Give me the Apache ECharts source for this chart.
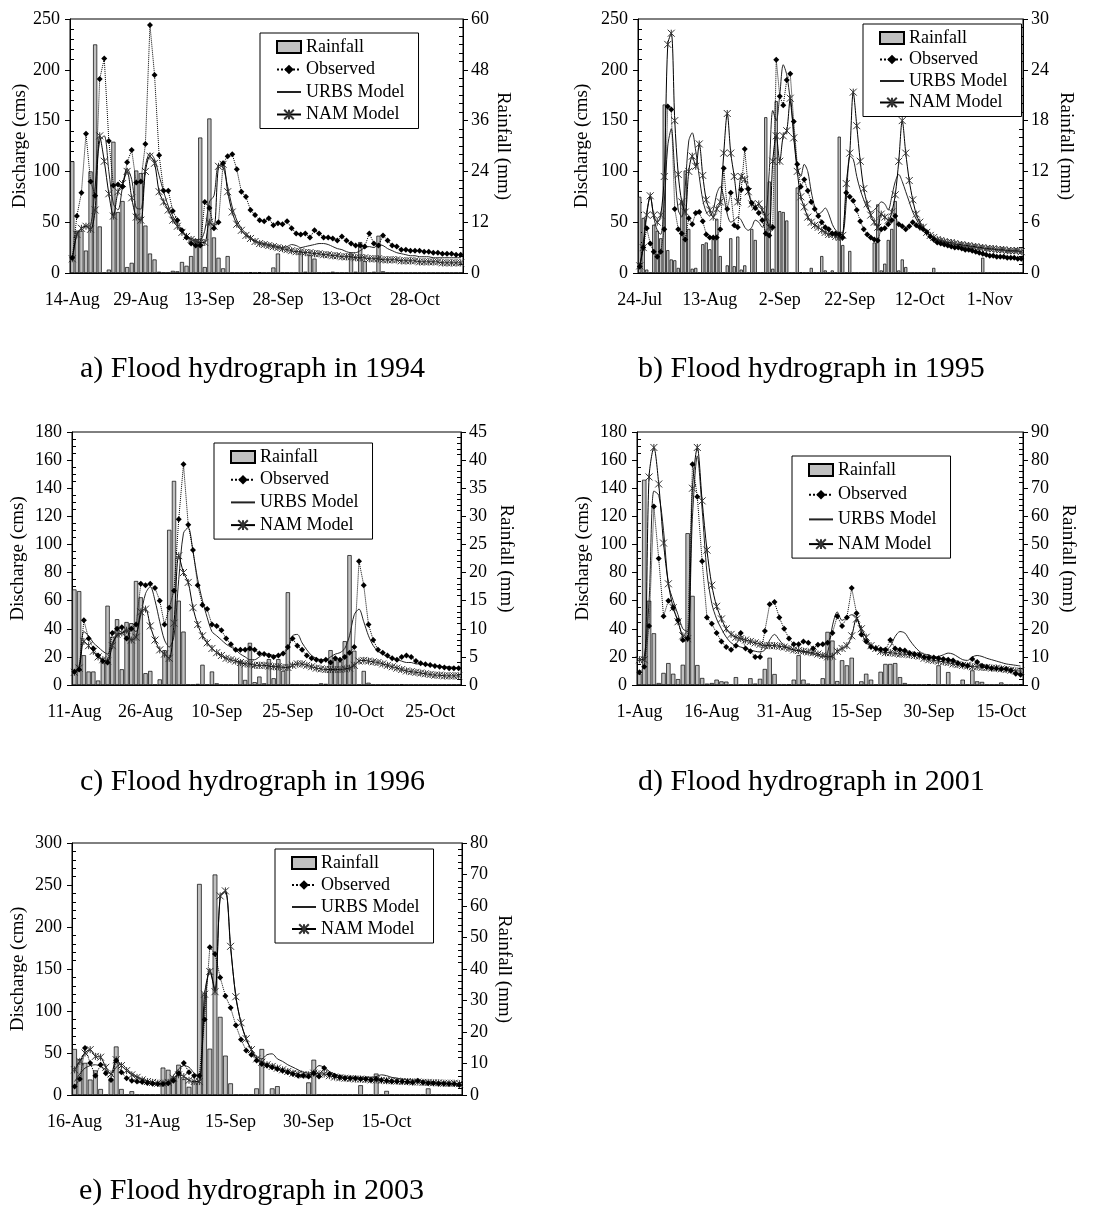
<!DOCTYPE html>
<html>
<head>
    <meta charset="utf-8" />
    <title>Flood hydrographs</title>
    <script src="https://cdn.jsdelivr.net/npm/echarts@6/dist/echarts.min.js"></script>
    <style>body { margin: 0; background: #fff; }</style>
</head>
<body>
    <div id="main" style="width: 1109px;height:1211px;"></div>
    <script type="text/javascript">
        // daily values (index 0 = first day of each panel)
        var rain1994 = [26.4, 10, 10, 5.3, 24, 54, 11, 0, 0.8, 31,
            14.4, 17, 1.4, 2.4, 24.2, 23.6, 11.2, 4.6, 3.2, 0.3,
            0, 0, 0.5, 0.4, 2.6, 1.7, 4, 7.9, 32, 1.4,
            36.5, 8.4, 3.6, 1.1, 4, 0, 0, 0, 0, 0.2,
            0, 0.2, 0, 0, 1.3, 4.6, 0, 0, 0, 0,
            5, 0.3, 4.2, 3.4, 0, 0, 0, 0.3, 0, 0,
            0, 4.6, 0.3, 7.3, 2.8, 0, 0.3, 8.8, 0.4, 0,
            0, 0, 0, 0, 0, 0, 0, 0, 0, 0,
            0, 0, 0, 0, 0, 0];
        var obs1994 = [15, 56, 79, 137, 90, 76, 191, 211, 130, 86,
            87, 85, 109, 121, 89, 90, 127, 244, 195, 116,
            81, 81, 61, 52, 42, 35, 29, 27, 27, 70,
            64, 44, 50, 108, 115, 117, 102, 80, 75, 62,
            57, 52, 51, 54, 47, 49, 48, 51, 44, 39,
            38, 39, 35, 42, 39, 35, 35, 34, 32, 36,
            32, 29, 27, 27, 26, 39, 29, 27, 37, 32,
            27, 26, 23, 23, 22, 22, 22, 21, 21, 20,
            20, 19, 19, 19, 18, 18];
        var urbs1994 = [12, 38, 44, 46, 47, 85, 130, 135, 100, 68,
            62, 85, 103, 92, 64, 63, 105, 118, 112, 96,
            80, 66, 56, 48, 42, 37, 34, 33, 33, 42,
            70, 76, 106, 104, 85, 65, 52, 44, 39, 35,
            32, 30, 29, 28, 27, 26, 25, 26, 28, 27,
            25, 26, 27, 28, 29, 29, 28, 26, 24, 23,
            21, 20, 20, 22, 25, 26, 25, 28, 27, 24,
            22, 20, 19, 18, 17, 17, 16, 16, 16, 15,
            15, 15, 15, 15, 15, 15];
        var nam1994 = [14, 38, 44, 46, 43, 62, 135, 110, 78, 56,
            80, 88, 100, 74, 55, 52, 100, 115, 108, 80,
            70, 62, 52, 46, 40, 36, 33, 31, 30, 30,
            50, 46, 105, 107, 80, 60, 48, 42, 37, 34,
            31, 29, 28, 27, 26, 25, 24, 23, 22, 21,
            21, 20, 20, 19, 19, 18, 18, 17, 17, 16,
            16, 16, 15, 15, 15, 14, 14, 14, 13, 13,
            13, 13, 12, 12, 12, 12, 11, 11, 11, 11,
            11, 10, 10, 10, 10, 10];

        var rain1995 = [9.0, 6.5, 0.4, 0, 5.7, 5.0, 4.1, 19.9, 2.7, 1.6,
            1.5, 0.6, 8.5, 12.1, 5.2, 0.5, 0.6, 0, 3.4, 3.6,
            2.8, 4.2, 6.4, 2.0, 0, 0.9, 4.1, 0.8, 4.3, 0.4,
            0.9, 0, 5.2, 3.9, 0, 0, 18.4, 10.8, 0.5, 20.3,
            7.3, 7.2, 6.2, 0, 0, 10.1, 0.1, 0, 0, 0.6,
            0, 0, 2.0, 0.3, 0, 0.3, 0, 16.1, 3.3, 0,
            2.6, 0, 0, 0, 0, 0, 0, 3.6, 8.1, 0.3,
            1.1, 3.9, 5.2, 8.5, 0.3, 1.6, 0.7, 0, 0, 0,
            0, 0, 0, 0, 0.6, 0, 0, 0, 0, 0,
            0, 0, 0, 0, 0, 0, 0, 0, 1.8, 0,
            0, 0, 0, 0, 0, 0, 0, 0, 0, 0];
        var obs1995 = [6.5, 25, 44, 29, 21, 16, 21, 43, 164, 161,
            63, 43, 39, 33, 54, 48, 59, 60, 51, 38,
            35, 35, 35, 43, 103, 63, 79, 47, 45, 82,
            122, 83, 69, 64, 59, 52, 39, 37, 45, 210,
            174, 165, 190, 196, 149, 107, 85, 92, 81, 70,
            63, 56, 50, 45, 43, 39, 39, 38, 35, 79,
            75, 71, 62, 51, 43, 38, 35, 33, 32, 43,
            44, 48, 52, 56, 48, 46, 43, 46, 50, 47,
            45, 43, 40, 36, 33, 30, 29, 28, 27, 26,
            25, 25, 24, 23, 23, 22, 21, 20, 19, 18,
            17, 17, 16, 16, 16, 15, 15, 15, 14, 14];
        var urbs1995 = [5, 30, 60, 75, 55, 42, 38, 70, 125, 142,
            100, 62, 55, 85, 130, 138, 120, 95, 72, 60,
            56, 62, 78, 85, 75, 58, 50, 52, 55, 52,
            45, 42, 45, 52, 50, 45, 55, 100, 160, 150,
            175, 205, 195, 170, 140, 105, 95, 107, 100, 80,
            65, 58, 60, 64, 58, 48, 42, 40, 40, 70,
            115, 112, 95, 82, 72, 64, 60, 62, 66, 70,
            68, 62, 75, 90, 97, 90, 80, 70, 60, 53,
            47, 43, 40, 37, 35, 33, 32, 31, 30, 29,
            28, 28, 27, 27, 26, 26, 25, 25, 24, 24,
            23, 23, 23, 22, 22, 22, 21, 21, 21, 21];
        var nam1995 = [7, 25, 57, 76, 57, 50, 57, 95, 225, 236,
            150, 97, 70, 60, 100, 115, 105, 127, 96, 72,
            62, 55, 63, 70, 118, 157, 118, 95, 70, 95,
            92, 80, 68, 65, 68, 62, 55, 45, 110, 135,
            110, 135, 140, 172, 133, 100, 75, 65, 55, 50,
            47, 45, 42, 40, 38, 38, 36, 35, 37, 88,
            118, 178, 145, 110, 83, 68, 57, 50, 45, 58,
            55, 52, 60, 77, 110, 150, 118, 91, 72, 58,
            50, 45, 40, 37, 35, 33, 32, 31, 30, 30,
            29, 28, 28, 27, 27, 26, 26, 25, 25, 24,
            24, 24, 23, 23, 23, 22, 22, 22, 22, 21];

        var rain1996 = [17, 16.7, 5.3, 2.4, 2.4, 0.8, 4.0, 14.1, 8.6, 11.7,
            2.8, 11.2, 11.0, 18.5, 15.6, 2.1, 2.5, 0, 1.0, 6.2,
            27.6, 36.3, 15.0, 9.5, 0, 0, 0.2, 3.6, 0, 2.4,
            0.3, 0, 0, 0, 0, 4.3, 0.9, 7.5, 0.5, 1.5,
            0.3, 4.6, 1.2, 4.6, 2.5, 16.5, 0, 0, 0, 0,
            0, 0, 0.3, 0.2, 6.2, 4.4, 4.2, 7.8, 23.1, 6.1,
            0, 2.5, 0.4, 0, 0, 0, 0, 0, 0, 0.1,
            0, 0, 0, 0, 0, 0, 0, 0, 0, 0,
            0, 0];
        var obs1996 = [9.5, 11, 46, 33, 26, 21, 17, 16, 37, 40,
            41, 33, 40, 43, 72, 71, 72, 69, 60, 43,
            55, 67, 118, 157, 114, 96, 71, 57, 54, 43,
            42, 39, 33, 29, 25, 25, 25, 26, 25, 22.5,
            22, 21, 20, 21, 22.5, 27, 33, 28, 25, 21,
            19, 18, 17, 18, 16, 19, 18, 20, 23, 27,
            88, 71, 43, 32, 25, 23, 21, 19, 18, 20,
            21, 20, 17, 15.5, 14.7, 14.2, 13.5, 13, 12.5, 12,
            12, 12];
        var urbs1996 = [10, 13, 38, 35, 30, 27, 24, 22, 30, 35,
            37, 38, 40, 38, 50, 65, 70, 60, 45, 32,
            27, 35, 75, 108, 112, 95, 75, 60, 48, 38,
            35, 32, 29, 27, 25, 22, 20, 18, 18, 20,
            22, 22, 21, 21, 22, 26, 35, 36, 30, 25,
            21, 19, 18, 18, 20, 22, 23, 26, 35, 50,
            54, 45, 35, 28, 24, 22, 20, 19, 18, 17,
            16, 16, 15, 15, 14.5, 14, 14, 13.5, 13, 13,
            12.5, 12];
        var nam1996 = [9, 12, 31, 28, 24, 20, 18, 17, 28, 36,
            37, 39, 32, 34, 52, 54, 42, 32, 25, 22,
            19, 44, 92, 80, 73, 55, 43, 35, 30, 26,
            23, 21, 19, 18, 17, 16, 15, 15, 14, 14,
            14, 13.5, 13, 13, 12.5, 12.5, 14, 15, 15, 14,
            13, 12, 11.5, 11, 11, 11, 11, 11.5, 12, 14,
            17, 17.5, 17, 16.5, 16, 15, 14, 13, 12, 11,
            10, 9.5, 9, 8.5, 8, 7.5, 7, 7, 6.5, 6.5,
            6.5, 6.5];

        var rain2001 = [4, 73, 30, 18.4, 0.7, 4.3, 7.8, 4, 2.1, 7.2,
            54, 31.7, 7.1, 2.5, 0.5, 0.7, 1.9, 1.3, 1.2, 0,
            2.8, 0, 0, 2.4, 0.5, 2.2, 5.7, 9.7, 3.9, 0,
            0, 0.1, 1.9, 10.6, 1.9, 0.5, 0, 0, 2.4, 18.9,
            15.8, 1.4, 8.8, 7, 9.7, 0, 1.3, 4, 1.9, 0,
            4.7, 7.5, 7.5, 7.8, 2.8, 0.7, 0, 0, 0, 0,
            0.3, 0, 7, 0, 4.6, 0, 0, 1.9, 0, 5.2,
            1.3, 1.1, 0, 0, 0, 0.9, 0, 0, 0, 0.2];
        var obs2001 = [9, 13, 42, 127, 90, 49, 60, 55, 46, 32,
            33, 157, 134, 88, 48, 43.5, 37, 31, 27, 25,
            28, 37, 26, 24, 20, 20, 38.5, 57.5, 59, 48,
            40, 33, 29, 29, 31, 30, 26, 28.6, 29, 30,
            37, 49, 42, 48, 69, 51, 36, 31, 27, 26,
            25.5, 25, 32, 26, 25, 24.6, 22.7, 22, 21.5, 20,
            19.6, 19.5, 19, 18.5, 18, 17.5, 15.6, 14.4, 13.7, 18.5,
            16.3, 13.7, 12.8, 12, 11.8, 11.4, 11.4, 10.4, 8, 7.3];
        var urbs2001 = [17, 20, 60, 138, 135, 110, 72, 60, 50, 40,
            38, 120, 163, 125, 80, 58, 47, 40, 34, 30,
            28, 27, 26, 25, 24, 23.5, 25, 32, 36, 32,
            28, 26, 25, 24.5, 23.5, 23, 22, 21, 20, 23,
            42, 52, 46, 48, 50, 48, 38, 30, 27.5, 25.5,
            25, 25, 27.5, 34.5, 38, 37, 32, 27.5, 24, 22,
            21.5, 20, 20.3, 21.5, 22.7, 22, 20, 18, 17.5, 20,
            21, 20.3, 19, 18, 17, 16, 15, 14.5, 14, 13.5];
        var nam2001 = [18, 18, 148, 169, 143, 101, 72, 55, 45, 35,
            33, 140, 169, 131, 96, 71, 56, 47, 40, 36,
            34, 33, 32, 31, 30, 29, 28, 28, 28, 27.5,
            27, 26, 25, 24.5, 24, 23.5, 23, 22, 21, 20,
            20.5, 24, 26, 28, 35, 47, 40, 34, 28, 26,
            24, 23, 23, 22.5, 22, 22, 21.5, 21, 20.5, 19,
            18, 17.5, 17, 16.5, 16, 15, 14.5, 14, 13.5, 13,
            13, 12.5, 12.5, 12, 12, 11.5, 11, 10.5, 10, 10];

        var rain2003 = [14.6, 11.4, 10.2, 4.9, 7.8, 1.9, 0, 5.3, 15.4, 1.9,
            0, 1.2, 0, 0, 0, 0, 0, 8.7, 8.0, 5.5,
            9.6, 5.0, 2.6, 4.5, 67, 32.3, 14.7, 70, 24.8, 12.5,
            3.7, 0, 0, 0, 0, 2.1, 14.6, 0, 2.1, 2.8,
            0, 0, 0, 0, 0, 4, 11.2, 0, 0, 0,
            0, 0, 0, 0, 0, 3.1, 0, 0, 6.8, 0,
            1.3, 0, 0, 0, 0, 0, 0, 0, 2.1, 0,
            0, 0, 0, 0, 0];
        var obs2003 = [10, 19, 56, 38, 23, 36, 26, 18, 41, 27,
            20, 17, 16, 15.5, 14.3, 13.5, 13, 13, 14, 17,
            26, 38, 27, 23, 23, 90, 176, 168, 140, 118,
            104, 83, 66, 53, 48, 41, 37, 35, 33, 31,
            29, 27, 25, 23, 23, 22, 26, 22, 32, 25,
            23, 21, 20, 20, 20, 19, 19, 18, 19, 17.5,
            17, 16, 16, 16, 15.5, 15, 17, 15, 14, 14,
            13.5, 13.5, 13, 13, 12];
        var urbs2003 = [16, 25, 32, 35, 36, 34, 30, 25, 33, 37,
            31, 26, 22, 19, 17, 15, 14, 14, 16, 23,
            31, 35, 33, 26, 22, 105, 150, 125, 235, 242,
            175, 118, 86, 66, 54, 46, 43, 48, 49, 43,
            40, 36, 33, 30, 27, 26, 29, 35, 33, 28,
            25, 23, 22, 21, 21, 21, 21, 21, 22, 24,
            23, 21, 20, 19, 18, 18, 17, 17, 16, 16,
            15, 15, 14, 14, 13];
        var nam2003 = [30, 40, 50, 54, 46, 45, 33, 25, 42, 35,
            29, 24, 21, 18, 16, 15, 14, 14, 15, 20,
            24, 22, 17.5, 16, 16, 120, 147, 123, 237, 243,
            177, 117, 86, 67, 54, 43, 39, 36, 34, 32,
            30, 28, 26, 25, 24, 24, 26, 25, 25, 23,
            21.4, 20.5, 20, 19.5, 19, 19, 18.5, 18, 18, 17.5,
            17, 17, 16.5, 16, 16, 15.5, 15.5, 15, 15, 14.5,
            14.5, 14, 14, 14, 13.5];

        var MONTHS = ['Jan', 'Feb', 'Mar', 'Apr', 'May', 'Jun', 'Jul', 'Aug', 'Sep', 'Oct', 'Nov', 'Dec'];
        function dayLabels(year, month, day, n) {
            var out = [];
            for (var i = 0; i < n; i++) {
                var d = new Date(Date.UTC(year, month, day + i));
                out.push(d.getUTCDate() + '-' + MONTHS[d.getUTCMonth()]);
            }
            return out;
        }

        var FONT = 'Liberation Serif';
        var starPath = 'path://M0,0L10,10M10,0L0,10M5,0L5,10';

        var panels = [
            { title: 'a) Flood hydrograph in 1994', start: [1994, 7, 14], rain: rain1994, obs: obs1994, urbs: urbs1994, nam: nam1994,
              grid: { left: 70, top: 19, width: 393, height: 254 }, q: [250, 50, 5], r: [60, 12, 6], every: 15,
              legend: [260, 33, 4.5], titleAt: [80, 369], gapL: 39, gapR: 30 },
            { title: 'b) Flood hydrograph in 1995', start: [1995, 6, 24], rain: rain1995, obs: obs1995, urbs: urbs1995, nam: nam1995,
              grid: { left: 638, top: 19, width: 385, height: 254 }, q: [250, 50, 5], r: [30, 6, 6], every: 20,
              legend: [863, 24, 3.5], titleAt: [638, 369], gapL: 46, gapR: 33 },
            { title: 'c) Flood hydrograph in 1996', start: [1996, 7, 11], rain: rain1996, obs: obs1996, urbs: urbs1996, nam: nam1996,
              grid: { left: 72, top: 432, width: 389, height: 253 }, q: [180, 20, 4], r: [45, 5, 5], every: 15,
              legend: [214, 443, 4.7], titleAt: [80, 782], gapL: 44, gapR: 35 },
            { title: 'd) Flood hydrograph in 2001', start: [2001, 7, 1], rain: rain2001, obs: obs2001, urbs: urbs2001, nam: nam2001,
              grid: { left: 637, top: 432, width: 386, height: 253 }, q: [180, 20, 4], r: [90, 10, 5], every: 15,
              legend: [792, 456, 6.7], titleAt: [638, 782], gapL: 44, gapR: 35 },
            { title: 'e) Flood hydrograph in 2003', start: [2003, 7, 16], rain: rain2003, obs: obs2003, urbs: urbs2003, nam: nam2003,
              grid: { left: 72, top: 843, width: 390, height: 252 }, q: [300, 50, 5], r: [80, 10, 5], every: 15,
              legend: [275, 849, 4], titleAt: [79, 1191], gapL: 44, gapR: 32 }
        ];

        var black = { color: '#000' };
        var labelFont = { color: '#000', fontFamily: FONT, fontSize: 18 };

        var option = { animation: false, grid: [], xAxis: [], yAxis: [], series: [], legend: [], graphic: [] };

        panels.forEach(function (p, k) {
            var n = p.rain.length;
            option.grid.push({ left: p.grid.left, top: p.grid.top, width: p.grid.width, height: p.grid.height,
                show: true, borderColor: '#000', borderWidth: 1 });
            option.xAxis.push({
                type: 'category', gridIndex: k, boundaryGap: true,
                data: dayLabels(p.start[0], p.start[1], p.start[2], n),
                axisLine: { lineStyle: black },
                axisTick: { interval: p.every - 1, length: 5, lineStyle: black },
                axisLabel: { interval: p.every - 1, margin: 18, color: '#000', fontFamily: FONT, fontSize: 18 }
            });
            var yi = option.yAxis.length;
            // discharge axis (left), major ticks outside
            option.yAxis.push({
                type: 'value', gridIndex: k, position: 'left', min: 0, max: p.q[0], interval: p.q[1],
                name: 'Discharge (cms)', nameLocation: 'middle', nameGap: p.gapL,
                nameTextStyle: { color: '#000', fontFamily: FONT, fontSize: 19 },
                axisLine: { show: true, lineStyle: black },
                axisTick: { show: true, length: 5, lineStyle: black },
                axisLabel: { margin: 10, color: '#000', fontFamily: FONT, fontSize: 18 },
                splitLine: { show: false }
            });
            // same scale, only inner minor ticks
            option.yAxis.push({
                type: 'value', gridIndex: k, position: 'left', min: 0, max: p.q[0], interval: p.q[1],
                axisLine: { show: false }, axisLabel: { show: false }, splitLine: { show: false },
                axisTick: { show: false, inside: true },
                minorTick: { show: true, splitNumber: p.q[2], length: 4, lineStyle: black }
            });
            // rainfall axis (right)
            option.yAxis.push({
                type: 'value', gridIndex: k, position: 'right', min: 0, max: p.r[0], interval: p.r[1],
                name: 'Rainfall (mm)', nameLocation: 'middle', nameGap: p.gapR, nameRotate: -90,
                nameTextStyle: { color: '#000', fontFamily: FONT, fontSize: 19 },
                axisLine: { show: true, lineStyle: black },
                axisTick: { show: true, length: 5, lineStyle: black },
                axisLabel: { margin: 8, color: '#000', fontFamily: FONT, fontSize: 18 },
                splitLine: { show: false }
            });
            option.yAxis.push({
                type: 'value', gridIndex: k, position: 'right', min: 0, max: p.r[0], interval: p.r[1],
                axisLine: { show: false }, axisLabel: { show: false }, splitLine: { show: false },
                axisTick: { show: false, inside: true },
                minorTick: { show: true, splitNumber: p.r[2], length: 4, lineStyle: black }
            });

            option.series.push({
                name: 'Rainfall', type: 'bar', xAxisIndex: k, yAxisIndex: yi + 2, data: p.rain,
                barCategoryGap: '10%',
                itemStyle: { color: '#c0c0c0', borderColor: '#000', borderWidth: 0.7 }, z: 1
            });
            option.series.push({
                name: 'URBS Model', type: 'line', xAxisIndex: k, yAxisIndex: yi, data: p.urbs,
                symbol: 'none', smooth: 0.3,
                lineStyle: { color: '#222', width: 1 }, itemStyle: { color: '#222' }, z: 3
            });
            option.series.push({
                name: 'NAM Model', type: 'line', xAxisIndex: k, yAxisIndex: yi, data: p.nam,
                symbol: starPath, symbolSize: 7, showAllSymbol: true, smooth: 0.3,
                lineStyle: { color: '#000', width: 1 },
                itemStyle: { color: 'none', borderColor: '#333', borderWidth: 1 }, z: 3
            });
            option.series.push({
                name: 'Observed', type: 'line', xAxisIndex: k, yAxisIndex: yi, data: p.obs,
                symbol: 'diamond', symbolSize: 6, showAllSymbol: true,
                lineStyle: { color: '#000', width: 1, type: 'dotted' }, itemStyle: { color: '#000' }, z: 4
            });

            option.legend.push({
                left: p.legend[0], top: p.legend[1], orient: 'vertical', selectedMode: false,
                data: [
                    { name: 'Rainfall', icon: 'rect' },
                    'Observed',
                    { name: 'URBS Model', itemStyle: { opacity: 0 } },
                    'NAM Model'
                ],
                itemWidth: 24, itemHeight: 12, itemGap: p.legend[2], padding: [5, 14, 5, 16],
                borderColor: '#000', borderWidth: 1, backgroundColor: '#fff',
                textStyle: labelFont
            });

            option.graphic.push({
                type: 'text', x: p.titleAt[0], y: p.titleAt[1],
                style: { text: p.title, fill: '#000', font: '30px "Liberation Serif"', verticalAlign: 'middle' }
            });
        });

        var myChart = echarts.init(document.getElementById('main'));
        myChart.setOption(option);
    </script>
</body>
</html>
